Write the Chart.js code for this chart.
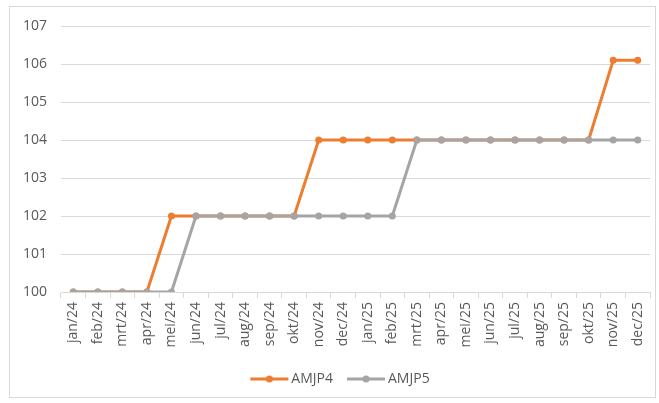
<!DOCTYPE html>
<html>
<head>
<meta charset="utf-8">
<script src="https://cdn.jsdelivr.net/npm/chart.js@4"></script>
<style>
  html, body { margin: 0; padding: 0; background: #fff; }
  #wrap { position: relative; width: 659px; height: 403px; }
  #frame { position: absolute; left: 9px; top: 6px; width: 647px; height: 392px; border: 1px solid #d9d9d9; box-sizing: border-box; pointer-events: none; }
  canvas { position: absolute; left: 0; top: 0; }
</style>
</head>
<body>
<div id="wrap">
  <canvas id="c" width="659" height="403"></canvas>
  <div id="frame"></div>
</div>
<script>
const categories = ["jan/24","feb/24","mrt/24","apr/24","mei/24","jun/24","jul/24","aug/24","sep/24","okt/24","nov/24","dec/24",
                    "jan/25","feb/25","mrt/25","apr/25","mei/25","jun/25","jul/25","aug/25","sep/25","okt/25","nov/25","dec/25"];
const amjp4 = [100,100,100,100,102,102,102,102,102,102,104,104,104,104,104,104,104,104,104,104,104,104,106.1,106.1];
const amjp5 = [100,100,100,100,100,102,102,102,102,102,102,102,102,102,104,104,104,104,104,104,104,104,104,104];
const yTicks = [100,101,102,103,104,105,106,107];

const ORANGE = '#ED7D31';
const GREY = '#A5A5A5';
const FONT = "'Open Sans', sans-serif";

function legendIcon(color) {
  const c = document.createElement('canvas');
  c.width = 40; c.height = 10;
  const x = c.getContext('2d');
  x.strokeStyle = color; x.lineWidth = 3;
  x.beginPath(); x.moveTo(1, 5); x.lineTo(39, 5); x.stroke();
  x.fillStyle = color;
  x.beginPath(); x.arc(20, 5, 3.5, 0, Math.PI * 2); x.fill();
  return c;
}

const shiftLegend = {
  id: 'shiftLegend',
  afterLayout(chart) {
    const lg = chart.legend;
    if (lg) { lg.left += 12; lg.right += 12; }
  }
};

new Chart(document.getElementById('c'), {
  type: 'line',
  data: {
    labels: categories,
    datasets: [
      { label: 'AMJP4', data: amjp4, borderColor: ORANGE, backgroundColor: ORANGE,
        borderWidth: 3, pointRadius: 3.5, pointBorderWidth: 0, pointBackgroundColor: ORANGE,
        pointStyle: 'circle', tension: 0, order: 1 },
      { label: 'AMJP5', data: amjp5, borderColor: GREY, backgroundColor: GREY,
        borderWidth: 3, pointRadius: 3.5, pointBorderWidth: 0, pointBackgroundColor: GREY,
        pointStyle: 'circle', tension: 0, order: 0 }
    ]
  },
  plugins: [shiftLegend],
  options: {
    responsive: false,
    animation: false,
    layout: { padding: { left: 10, right: 9, top: 26, bottom: 7 } },
    plugins: {
      tooltip: { enabled: false },
      legend: {
        position: 'bottom',
        labels: {
          usePointStyle: true,
          pointStyleWidth: 30,
          padding: 18,
          color: '#595959',
          font: { family: FONT, size: 14 },
          generateLabels(chart) {
            return chart.data.datasets.map((ds, i) => ({
              text: ds.label,
              fillStyle: ds.borderColor,
              strokeStyle: ds.borderColor,
              fontColor: '#595959',
              pointStyle: legendIcon(ds.borderColor),
              lineWidth: 0,
              hidden: false,
              datasetIndex: i
            }));
          }
        }
      }
    },
    scales: {
      x: {
        offset: true,
        grid: { display: true, drawOnChartArea: false, drawTicks: true, tickLength: 6, color: '#d9d9d9', offset: true },
        border: { display: true, color: '#d9d9d9', width: 1 },
        ticks: { autoSkip: false, maxRotation: 90, minRotation: 90, color: '#595959', font: { family: FONT, size: 14 }, padding: 4 },
        afterFit(s) { s.height = 62; }
      },
      y: {
        min: 100, max: 107,
        afterBuildTicks(s) { s.ticks = yTicks.map(v => ({ value: v })); },
        grid: { color: '#d9d9d9', drawTicks: false, lineWidth: 1 },
        border: { display: false },
        ticks: { color: '#595959', font: { family: FONT, size: 14 }, padding: 14 },
        afterFit(s) { s.width = 51; }
      }
    }
  }
});
</script>
</body>
</html>
